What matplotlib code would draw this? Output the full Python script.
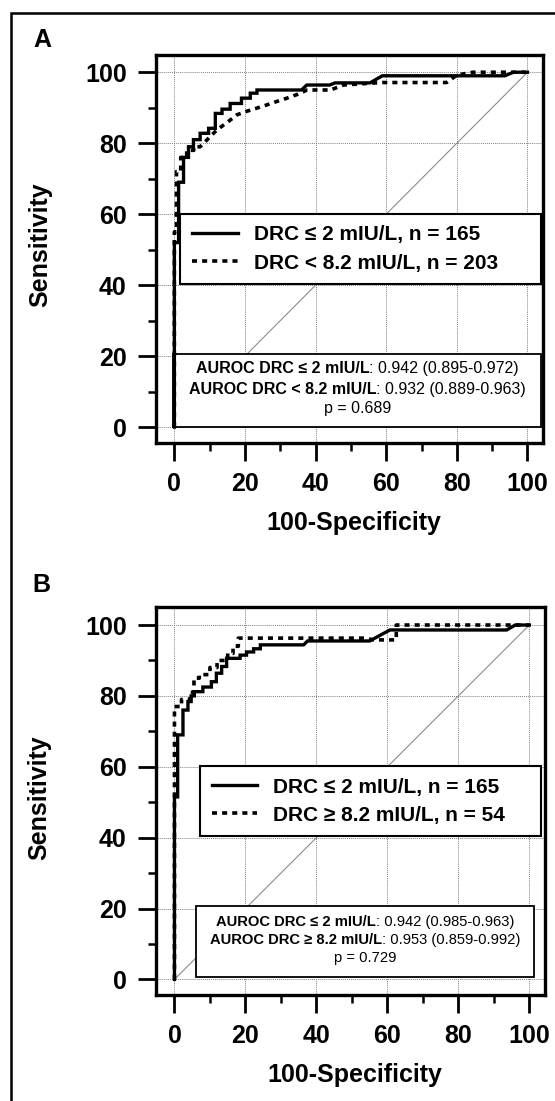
import matplotlib
matplotlib.use("Agg")
import matplotlib.pyplot as plt
from matplotlib.patches import Rectangle
from matplotlib.lines import Line2D

plt.rcParams["font.family"] = ["Liberation Sans", "DejaVu Sans"]
plt.rcParams["font.weight"] = "bold"

# ---- data ----
ticks = [0, 20, 40, 60, 80, 100]
minor_ticks = [10, 30, 50, 70, 90]

# panel A, DRC <= 2 mIU/L
fpr_a1 = [0, 0, 1.2, 1.2, 2.6, 2.6, 4.0, 4.0, 5.4, 5.4, 7.3, 7.3, 9.7, 9.7, 11.6, 11.6,
          13.5, 13.5, 15.8, 15.8, 19.0, 19.0, 21.5, 21.5, 23.4, 23.4, 36.0, 37.5, 44.0,
          45.5, 55.4, 58.9, 93.6, 96.0, 100]
tpr_a1 = [0, 52, 52, 69, 69, 76, 76, 79, 79, 81, 81, 82.8, 82.8, 84.2, 84.2, 88.4,
          88.4, 89.6, 89.6, 91.2, 91.2, 92.7, 92.7, 94.1, 94.1, 95, 95, 96.4, 96.4,
          97, 97, 99, 99, 100, 100]
# panel A, DRC < 8.2 mIU/L
fpr_a2 = [0, 0, 0.6, 0.6, 1.8, 1.8, 3.5, 3.5, 5.5, 5.5, 7.3, 10.1, 12.0, 13.9, 15.8,
          17.7, 20.5, 23.4, 26.2, 29.1, 31.9, 34.7, 37.6, 44.2, 47.9, 55.4, 58.9,
          77.1, 80.0, 84.5, 100]
tpr_a2 = [0, 55, 55, 72, 72, 76, 76, 78, 78, 79, 79, 81.8, 83.7, 85.1, 86.5, 88.0,
          89.0, 89.9, 90.8, 91.8, 92.7, 93.7, 95.0, 95.0, 96.4, 96.9, 97.1, 97.1,
          99.2, 100, 100]

# panel B, DRC <= 2 mIU/L
fpr_b1 = [0, 0, 0.9, 0.9, 2.4, 2.4, 3.8, 3.8, 4.7, 4.7, 5.6, 5.6, 8.0, 8.0, 10.4, 10.4,
          11.8, 11.8, 13.3, 13.3, 14.7, 14.7, 18.5, 18.5, 20.3, 20.3, 22.3, 22.3, 24.2,
          24.2, 36.4, 37.5, 55.0, 60.7, 93.6, 96.0, 100]
tpr_b1 = [0, 51.5, 51.5, 69, 69, 76, 76, 78.4, 78.4, 80, 80, 81.2, 81.2, 82.5, 82.5,
          84, 84, 86.4, 86.4, 88.3, 88.3, 90.6, 90.6, 91.5, 91.5, 92.4, 92.4, 93.3,
          93.3, 94.4, 94.4, 95.5, 95.5, 98.6, 98.6, 100, 100]
# panel B, DRC >= 8.2 mIU/L
fpr_b2 = [0, 0, 2.0, 2.0, 4.5, 4.5, 5.5, 5.5, 7.0, 7.0, 10.0, 10.0, 12.0, 12.0, 15.0,
          15.0, 16.5, 16.5, 18.0, 18.0, 54.0, 56.0, 62.5, 62.5, 100]
tpr_b2 = [0, 77, 77, 79, 79, 81, 81, 85, 85, 86, 86, 88, 88, 90, 90, 92, 92, 94, 94,
          96.3, 96.3, 95.8, 95.8, 100, 100]

legend_a = ["DRC \u2264 2 mIU/L, n = 165", "DRC < 8.2 mIU/L, n = 203"]
legend_b = ["DRC \u2264 2 mIU/L, n = 165", "DRC \u2265 8.2 mIU/L, n = 54"]

auroc_a = [("AUROC DRC \u2264 2 mIU/L", ": 0.942 (0.895-0.972)"),
           ("AUROC DRC < 8.2 mIU/L", ": 0.932 (0.889-0.963)"),
           ("", "p = 0.689")]
auroc_b = [("AUROC DRC \u2264 2 mIU/L", ": 0.942 (0.985-0.963)"),
           ("AUROC DRC \u2265 8.2 mIU/L", ": 0.953 (0.859-0.992)"),
           ("", "p = 0.729")]

W, H = 555, 1101
fig = plt.figure(figsize=(W / 100, H / 100), dpi=100)
renderer = fig.canvas.get_renderer()

solid_kw = dict(color="black", lw=2.4, solid_joinstyle="miter")
dot_kw = dict(color="black", lw=2.6, linestyle=(0, (1.4, 1.4)))


def mixed_line(ax, xc, y, bold, normal, size):
    t1 = ax.text(xc, y, bold, transform=ax.transAxes, fontsize=size,
                 fontweight="bold", ha="left", va="center", zorder=8)
    t2 = ax.text(xc, y, normal, transform=ax.transAxes, fontsize=size,
                 fontweight="normal", ha="left", va="center", zorder=8)
    w1 = t1.get_window_extent(renderer).width if bold else 0
    w2 = t2.get_window_extent(renderer).width
    aw = ax.get_window_extent(renderer).width
    x0 = xc - (w1 + w2) / 2 / aw
    t1.set_x(x0)
    t2.set_x(x0 + w1 / aw)


def draw_panel(ax, f1, t1, f2, t2, labels, lines, leg_box, txt_box, txt_y, txt_size):
    ax.set_xlim(-5.2, 104.4)
    ax.set_ylim(-4.4, 105)
    ax.set_xticks(ticks)
    ax.set_yticks(ticks)
    ax.set_xticks(minor_ticks, minor=True)
    ax.set_yticks(minor_ticks, minor=True)
    ax.tick_params(which="major", length=13, width=2, labelsize=18, pad=8)
    ax.tick_params(which="minor", length=6, width=1.8)
    for sp in ax.spines.values():
        sp.set_linewidth(2.4)
    ax.grid(True, which="major", color="0.5", lw=0.7, linestyle=(0, (1, 1)), zorder=0)
    ax.set_axisbelow(True)

    ax.plot([0, 100], [0, 100], color="0.55", lw=0.8, zorder=1)
    ax.plot(f2, t2, zorder=5, **dot_kw)
    ax.plot(f1, t1, zorder=5, **solid_kw)

    handles = [Line2D([], [], **solid_kw), Line2D([], [], **dot_kw)]
    leg = ax.legend(handles, labels, loc="center", bbox_to_anchor=leg_box,
                    mode="expand", fontsize=15, borderpad=0.56, handlelength=2.2,
                    handletextpad=0.75, labelspacing=0.44, borderaxespad=0,
                    fancybox=False, framealpha=1, edgecolor="black")
    leg.get_frame().set_linewidth(1.5)
    leg.set_zorder(7)

    x0, y0, x1, y1 = txt_box
    ax.add_patch(Rectangle((x0, y0), x1 - x0, y1 - y0, transform=ax.transAxes,
                           facecolor="white", edgecolor="black", lw=1.3, zorder=4))
    xc = (x0 + x1) / 2
    for (b, n), y in zip(lines, txt_y):
        mixed_line(ax, xc, y, b, n, txt_size)

    ax.set_xlabel("100-Specificity", fontsize=18, fontweight="bold")
    ax.set_ylabel("Sensitivity", fontsize=18, fontweight="bold")
    ax.xaxis.set_label_coords(0.51, -0.207)
    ax.xaxis.label.set_va("center")
    ax.yaxis.set_label_coords(-0.30, 0.51)
    ax.yaxis.label.set_va("center")


ax_a = fig.add_axes([156 / W, 1 - 442.7 / H, 387 / W, 388.2 / H])
ax_b = fig.add_axes([156 / W, 1 - 995 / H, 389 / W, 387.7 / H])

draw_panel(ax_a, fpr_a1, tpr_a1, fpr_a2, tpr_a2, legend_a, auroc_a,
           (0.063, 0.411, 0.932, 0.176), (0.045, 0.040, 0.995, 0.2285),
           [0.190, 0.138, 0.089], 11.5)
draw_panel(ax_b, fpr_b1, tpr_b1, fpr_b2, tpr_b2, legend_b, auroc_b,
           (0.113, 0.415, 0.877, 0.17), (0.104, 0.047, 0.973, 0.2296),
           [0.189, 0.142, 0.0955], 10.6)

fig.text(33 / W, 1 - 28 / H, "A", fontsize=18, fontweight="bold", ha="left", va="top")
fig.text(32 / W, 1 - 573 / H, "B", fontsize=18, fontweight="bold", ha="left", va="top")

fig.add_artist(Rectangle((11 / W, -0.05), 1.05, 1 - 13 / H + 0.05,
                         transform=fig.transFigure, fill=False, lw=1.8,
                         edgecolor="black", clip_on=False))

fig.savefig("out.png", dpi=100)
